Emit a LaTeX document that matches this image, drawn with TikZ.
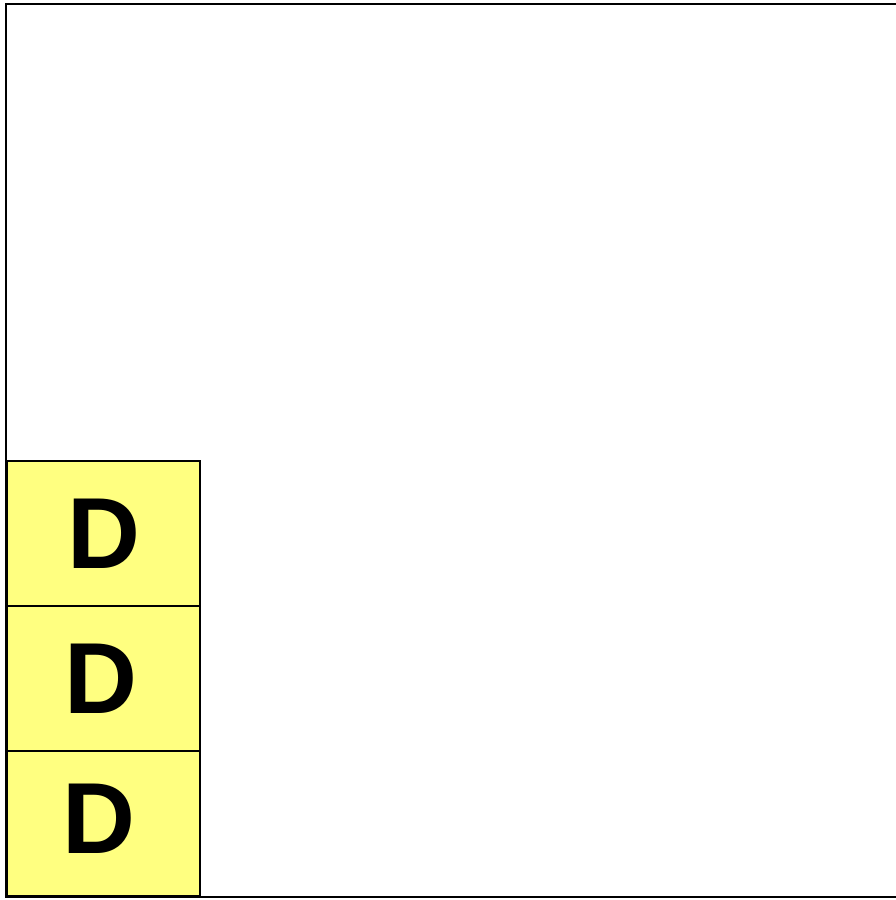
\documentclass[tikz,border=0pt]{standalone}
\usepackage{fontspec}
\setmainfont{Liberation Sans}
\tikzset{
  ybox/.style={draw=black, line width=2.4pt, fill=yboxfill},
  dletter/.style={font=\bfseries\fontsize{101}{101}\selectfont, inner sep=0pt, anchor=center}
}
\definecolor{yboxfill}{RGB}{255,255,128}
\begin{document}
\begin{tikzpicture}[x=1pt,y=-1pt]
\useasboundingbox (0,0) rectangle (896,900);
\clip (0,0) rectangle (896,900);
\fill[white] (0,0) rectangle (896,900);
\draw[line width=2.6pt] (910,4) -- (6,4) -- (6,897) -- (910,897);
\draw[ybox] (7,461) rectangle (200,606);
\draw[ybox] (7,606) rectangle (200,751);
\draw[ybox] (7,751) rectangle (200,896);
\node[dletter] (d1) at (103.5,534) {D};
\node[dletter] (d2) at (100.5,679) {D};
\node[dletter] (d3) at (98.5,818.5) {D};
\end{tikzpicture}
\end{document}
